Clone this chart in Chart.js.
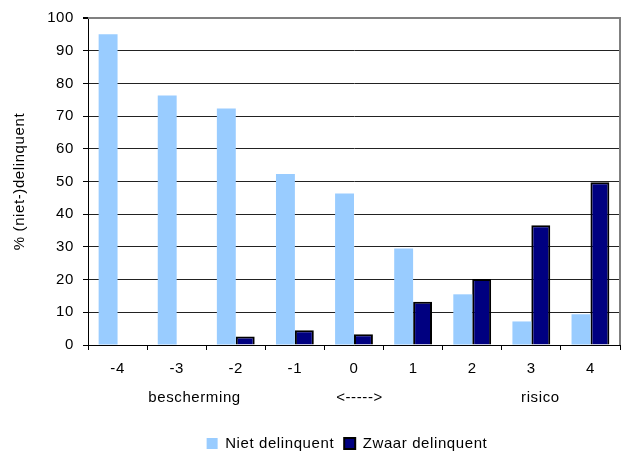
<!DOCTYPE html>
<html>
<head>
<meta charset="utf-8">
<script src="https://cdn.jsdelivr.net/npm/chart.js@4/dist/chart.umd.min.js"></script>
<style>
html,body{margin:0;padding:0;background:#fff;}
#wrap{width:627px;height:457px;position:relative;}
</style>
</head>
<body>
<div id="wrap"><canvas id="c" width="627" height="457"></canvas></div>
<script>
const categories = ['-4', '-3', '-2', '-1', '0', '1', '2', '3', '4'];
const nietDelinquent = [95, 76.3, 72.3, 52.3, 46.3, 29.5, 15.5, 7.2, 9.4];
const zwaarDelinquent = [0, 0, 2.6, 4.5, 3.3, 13.2, 20.2, 36.6, 49.8];
const seriesNames = ['Niet delinquent', 'Zwaar delinquent'];
const yTitle = '% (niet-)delinquent';
const xTitle = 'bescherming' + ' '.repeat(20) + '<----->' + ' '.repeat(29) + 'risico';

const FONT = "'Liberation Sans', Arial, sans-serif";

const spacingPlugin = {
  id: 'spacing',
  beforeUpdate(chart) { chart.ctx.letterSpacing = '0.6px'; },
  beforeDraw(chart) { chart.ctx.letterSpacing = '0.6px'; }
};

const legendShift = {
  id: 'legendShift',
  afterLayout(chart) {
    const lg = chart.legend;
    if (lg) {
      lg.top += 6; lg.bottom += 6;
      lg.left += 37; lg.right += 37;
    }
  }
};

const framePlugin = {
  id: 'frame',
  afterDraw(chart) {
    const a = chart.chartArea, ctx = chart.ctx;
    ctx.save();
    ctx.strokeStyle = '#808080';
    ctx.lineWidth = 2;
    ctx.beginPath();
    ctx.moveTo(a.left, a.top);
    ctx.lineTo(a.right, a.top);
    ctx.lineTo(a.right, a.bottom);
    ctx.stroke();
    ctx.restore();
  }
};

new Chart(document.getElementById('c'), {
  type: 'bar',
  data: {
    labels: categories,
    datasets: [
      {
        label: seriesNames[0],
        data: nietDelinquent,
        backgroundColor: '#99CCFF',
        borderWidth: 0,
        categoryPercentage: 0.64,
        barPercentage: 1.0
      },
      {
        label: seriesNames[1],
        data: zwaarDelinquent,
        backgroundColor: '#000080',
        borderColor: '#000000',
        borderWidth: 2,
        borderSkipped: 'start',
        categoryPercentage: 0.64,
        barPercentage: 1.0
      }
    ]
  },
  options: {
    responsive: false,
    animation: false,
    devicePixelRatio: 1,
    layout: { padding: { top: 15, right: 7, left: 0, bottom: 2 } },
    plugins: {
      legend: {
        position: 'bottom',
        labels: {
          boxWidth: 11,
          boxHeight: 11,
          padding: 10,
          color: '#000',
          font: { family: FONT, size: 15 }
        }
      },
      tooltip: { enabled: false },
      title: { display: false }
    },
    scales: {
      x: {
        afterFit(scale) { scale.height = 75; },
        grid: {
          offset: true,
          drawOnChartArea: false,
          drawTicks: true,
          tickLength: 5,
          color: '#000'
        },
        border: { display: true, color: '#000', width: 1 },
        ticks: {
          color: '#000',
          padding: 10,
          font: { family: FONT, size: 15 }
        },
        title: {
          display: true,
          text: xTitle,
          color: '#000',
          padding: { top: 4, bottom: 13 },
          font: { family: FONT, size: 15 }
        }
      },
      y: {
        min: 0,
        max: 100,
        afterFit(scale) { scale.width = 88; },
        ticks: {
          stepSize: 10,
          color: '#000',
          padding: 9,
          font: { family: FONT, size: 15 }
        },
        grid: {
          color: (c) => (c.tick && c.tick.value === 100) ? '#808080' : '#222',
          lineWidth: (c) => (c.tick && c.tick.value === 100) ? 2 : 1,
          tickLength: 5,
          tickColor: '#000'
        },
        border: { display: true, color: '#000', width: 1 },
        title: {
          display: true,
          text: yTitle,
          color: '#000',
          padding: { top: 11, bottom: 0 },
          font: { family: FONT, size: 15 }
        }
      }
    }
  },
  plugins: [spacingPlugin, legendShift, framePlugin]
});
</script>
</body>
</html>
